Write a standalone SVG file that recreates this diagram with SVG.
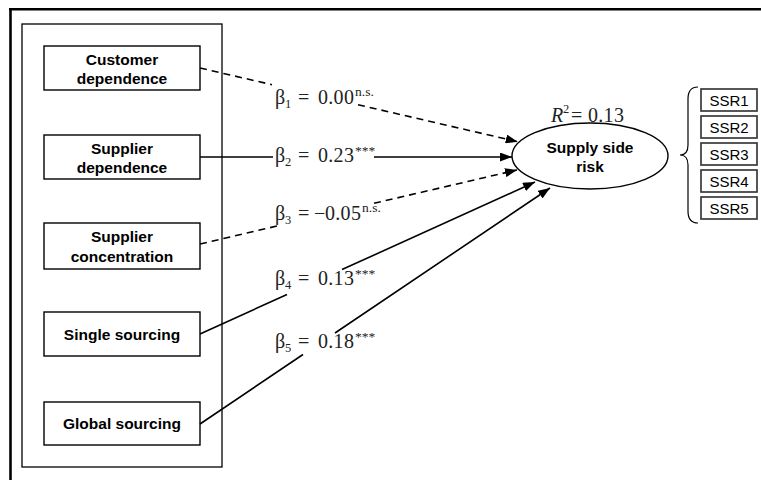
<svg xmlns="http://www.w3.org/2000/svg" width="761" height="480" viewBox="0 0 761 480">
<defs>
<marker id="arrow" markerUnits="userSpaceOnUse" markerWidth="12" markerHeight="9" refX="12" refY="4.5" orient="auto">
<path d="M0,0 L12,4.5 L0,9 z" fill="#000"/>
</marker>
<style>
.node rect{fill:#fff;stroke:#000;stroke-width:1.4}
.lbl{font-family:"Liberation Sans",Arial,sans-serif;font-weight:bold;font-size:15.5px;fill:#000;text-anchor:middle}
.ssr rect{fill:#fff;stroke:#3a3a3a;stroke-width:1.7}
.ssr text{font-family:"Liberation Sans",Arial,sans-serif;font-size:15px;fill:#000;text-anchor:middle}
.math{font-family:"Liberation Serif","Times New Roman",serif;font-size:20px;fill:#222}
.num{letter-spacing:0.3px}
.sub{font-size:12.5px}
.sup{font-size:13.5px}
.conn path{fill:none;stroke:#000;stroke-width:1.6;marker-end:url(#arrow)}
.conn .dash{stroke-dasharray:7 5}
</style>
</defs>
<rect width="761" height="480" fill="#fff"/>
<!-- outer frame (top and left edges) -->
<g id="frame" fill="none" stroke="#000">
<path d="M9,9.2 H761" stroke-width="2.6"/>
<path d="M10.5,8 V480" stroke-width="2.6"/>
<rect x="22" y="24" width="200" height="443" stroke-width="1.3"/>
</g>

<g id="customer-dependence" class="node">
<rect x="44" y="46" width="156" height="44"/>
<text class="lbl" x="122" y="65">Customer</text>
<text class="lbl" x="122" y="84">dependence</text>
</g>
<g id="supplier-dependence" class="node">
<rect x="44" y="135" width="156" height="44"/>
<text class="lbl" x="122" y="154">Supplier</text>
<text class="lbl" x="122" y="173">dependence</text>
</g>
<g id="supplier-concentration" class="node">
<rect x="44" y="223" width="156" height="46"/>
<text class="lbl" x="122" y="242">Supplier</text>
<text class="lbl" x="122" y="262">concentration</text>
</g>
<g id="single-sourcing" class="node">
<rect x="44" y="312" width="156" height="44"/>
<text class="lbl" x="122" y="340">Single sourcing</text>
</g>
<g id="global-sourcing" class="node">
<rect x="44" y="402" width="156" height="43"/>
<text class="lbl" x="122" y="429">Global sourcing</text>
</g>

<g id="supply-side-risk">
<ellipse cx="590" cy="156" rx="78" ry="33" fill="#fff" stroke="#000" stroke-width="1.4"/>
<text class="lbl" x="590" y="153">Supply side</text>
<text class="lbl" x="590" y="172">risk</text>
<text class="math" x="551" y="122"><tspan font-style="italic">R</tspan><tspan class="sub" x="563" y="113">2</tspan><tspan x="571" y="122">=</tspan><tspan class="num" x="588" y="122">0.13</tspan></text>
</g>

<g id="ssr-indicators" class="ssr">
<path d="M698,87 Q688,87 688,99 L688,145 Q688,155 680,155 Q688,155 688,165 L688,211 Q688,223 698,223" fill="none" stroke="#000" stroke-width="1.2"/>
<g id="ssr1"><rect x="701" y="89" width="56" height="22"/><text x="729" y="105.5">SSR1</text></g>
<g id="ssr2"><rect x="701" y="116" width="56" height="22"/><text x="729" y="132.5">SSR2</text></g>
<g id="ssr3"><rect x="701" y="143" width="56" height="22"/><text x="729" y="159.5">SSR3</text></g>
<g id="ssr4"><rect x="701" y="170" width="56" height="22"/><text x="729" y="186.5">SSR4</text></g>
<g id="ssr5"><rect x="701" y="197" width="56" height="22"/><text x="729" y="213.5">SSR5</text></g>
</g>

<g id="connectors" class="conn">
<path class="dash" d="M200,68 L272,84.7 M358,104.7 L517.7,141.7"/>
<path d="M200,157 L273,157 M374,157 L512,157"/>
<path class="dash" d="M200,244 L280,225.3 M374,203.3 L517,170"/>
<path d="M200,334 L287,294.5 M342,269.6 L535,182"/>
<path d="M200,424 L303,354.5 M335,333 L550,188"/>
</g>

<g id="path-labels" class="math">
<text x="275" y="104">β<tspan class="sub" x="285" y="108">1</tspan><tspan x="298" y="104">=</tspan><tspan class="num" x="318" y="104">0.00</tspan><tspan class="sup" x="355" y="96">n.s.</tspan></text>
<text x="275" y="162">β<tspan class="sub" x="285" y="166">2</tspan><tspan x="298" y="162">=</tspan><tspan class="num" x="318" y="162">0.23</tspan><tspan class="sup" x="355" y="155">***</tspan></text>
<text x="275" y="220">β<tspan class="sub" x="285" y="224">3</tspan><tspan x="298" y="220">=</tspan><tspan x="314" y="220">−</tspan><tspan class="num" x="325" y="220">0.05</tspan><tspan class="sup" x="362" y="212">n.s.</tspan></text>
<text x="275" y="285">β<tspan class="sub" x="285" y="289">4</tspan><tspan x="298" y="285">=</tspan><tspan class="num" x="318" y="285">0.13</tspan><tspan class="sup" x="355" y="278">***</tspan></text>
<text x="275" y="348">β<tspan class="sub" x="285" y="352">5</tspan><tspan x="298" y="348">=</tspan><tspan class="num" x="318" y="348">0.18</tspan><tspan class="sup" x="355" y="341">***</tspan></text>
</g>
</svg>
